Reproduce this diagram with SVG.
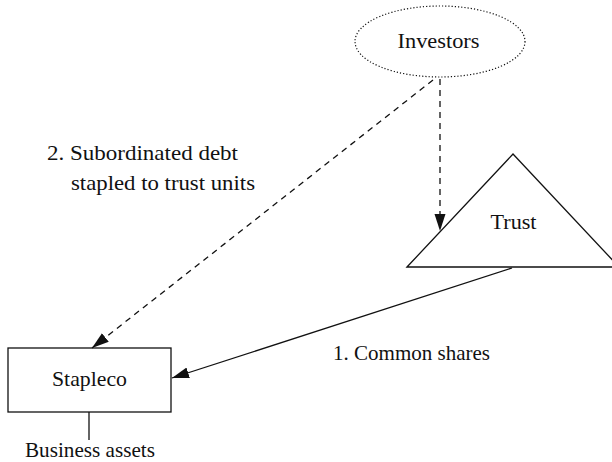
<svg xmlns="http://www.w3.org/2000/svg" width="612" height="462" viewBox="0 0 612 462">
<style>
text{font-family:'Liberation Serif','DejaVu Serif',serif;font-size:21px;fill:#111}
.shape{fill:#fff;stroke:#111;stroke-width:1.3}
.conn{fill:none;stroke:#111;stroke-width:1.3}
.dash{stroke-dasharray:6 5}
</style>
<defs>
<marker id="ah" markerUnits="userSpaceOnUse" markerWidth="18" markerHeight="12" refX="17" refY="5.5" orient="auto">
<path d="M0,0 L17,5.5 L0,11 z" fill="#111" stroke="none"/>
</marker>
</defs>
<g id="investors">
<ellipse cx="440" cy="41.5" rx="85" ry="35.5" fill="#fff" stroke="#111" stroke-width="1.2" stroke-dasharray="1.2 2"/>
<text x="438.5" y="48" text-anchor="middle" textLength="82" lengthAdjust="spacingAndGlyphs">Investors</text>
</g>
<g id="trust">
<polygon class="shape" points="407,267 513,154 619,267"/>
<text x="513.5" y="229" text-anchor="middle" textLength="46" lengthAdjust="spacingAndGlyphs">Trust</text>
</g>
<g id="stapleco">
<rect class="shape" x="8" y="348" width="163" height="64"/>
<text x="89.5" y="386" text-anchor="middle" textLength="75" lengthAdjust="spacingAndGlyphs">Stapleco</text>
</g>
<g id="business-assets">
<text x="90" y="457" text-anchor="middle" textLength="130" lengthAdjust="spacingAndGlyphs">Business assets</text>
</g>
<g id="connectors">
<path class="conn dash" d="M440,79 L440,231" marker-end="url(#ah)"/>
<path class="conn dash" d="M433,80 L92,348" marker-end="url(#ah)"/>
<path class="conn" d="M512,268 L172,378" marker-end="url(#ah)"/>
<path class="conn" d="M89,412 L89,440"/>
</g>
<g id="labels">
<text x="333" y="360" textLength="157" lengthAdjust="spacingAndGlyphs">1. Common shares</text>
<text x="47" y="160" textLength="191" lengthAdjust="spacingAndGlyphs">2. Subordinated debt</text>
<text x="71" y="190" textLength="184" lengthAdjust="spacingAndGlyphs">stapled to trust units</text>
</g>
</svg>
